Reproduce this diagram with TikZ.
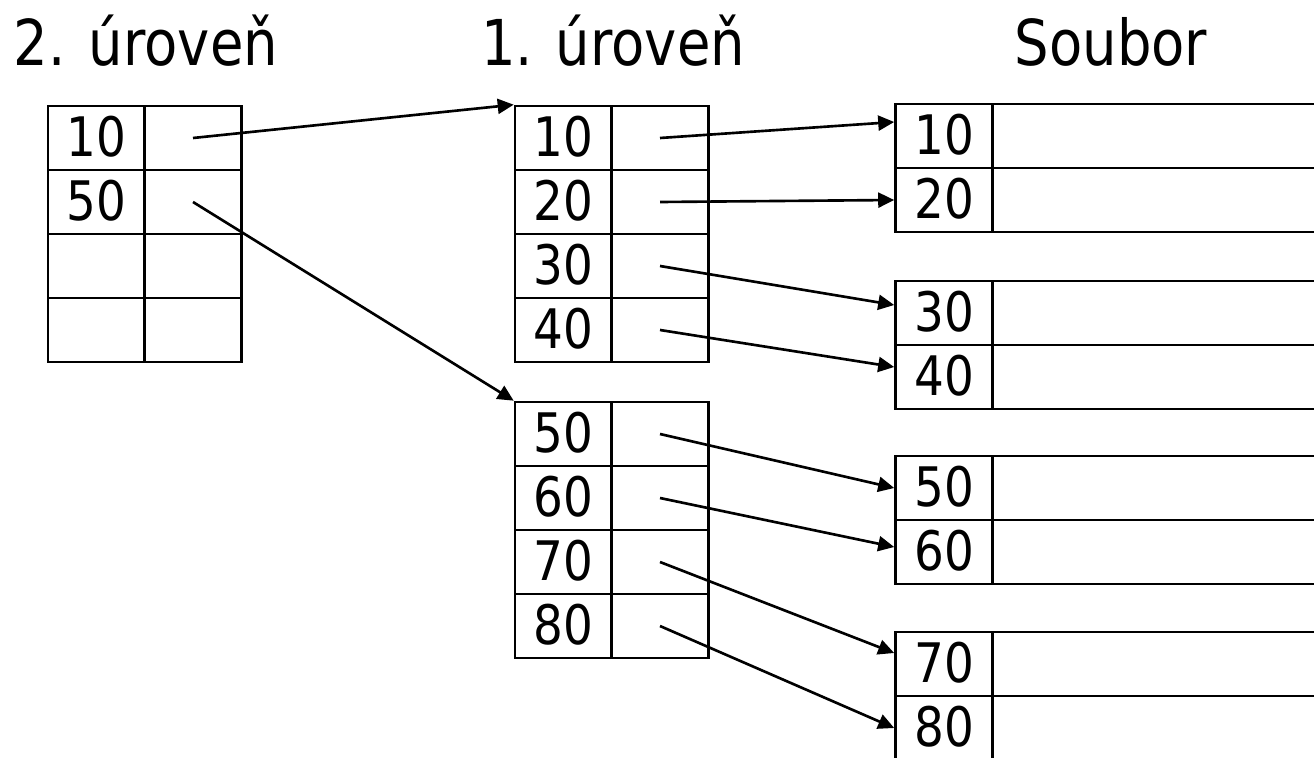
\documentclass[tikz,border=0pt]{standalone}
\usepackage{fontspec}
\setmainfont{DejaVu Sans}[FakeStretch=0.86]
\usetikzlibrary{arrows.meta}

\tikzset{
  key/.style={draw, inner sep=0pt, minimum width=1.94cm, minimum height=1.28cm,
    text depth=2pt, font=\fontsize{31}{31}\selectfont},
  ptr/.style={draw, inner sep=0pt, minimum width=1.94cm, minimum height=1.28cm},
  rec/.style={draw, inner sep=0pt, minimum width=6.8cm, minimum height=1.28cm},
  title/.style={anchor=base, font=\fontsize{36}{36}\selectfont},
}

\begin{document}
\begin{tikzpicture}[x=0.02cm, y=-0.02cm, line width=1.5pt,
  >={Triangle[length=0.32cm, width=0.3cm]}]
\useasboundingbox (0,0) rectangle (1314,757);
\clip (0,0) rectangle (1314,757);

% headings
\node[title] (t2) at (146,66) {2. úroveň};
\node[title] (t1) at (613,66) {1. úroveň};
\node[title] (tf) at (1111,66) {Soubor};

% 2. level index
\foreach \i/\y/\k in {1/138/10, 2/202/50, 3/266/{}, 4/330/{}} {
    \node[key] (L\i) at (96.5,\y) {\k};
    \node[ptr] (Lp\i) at (193,\y) {};
};

% 1. level index, two blocks
\foreach \i/\y in {1/138, 2/202, 3/266, 4/330, 5/434, 6/498, 7/562, 8/626} {
    \node[key] (M\i) at (563.5,\y) {\i0};
    \node[ptr] (Mp\i) at (660,\y) {};
};

% file blocks
\foreach \i/\y in {1/136, 2/200, 3/313, 4/377, 5/488, 6/552, 7/664, 8/728} {
    \node[key] (R\i) at (944,\y) {\i0};
    \node[rec] (Rd\i) at (1162,\y) {};
};

% pointers
\draw[->] (Lp1.center) -- (M1.north west);
\draw[->] (Lp2.center) -- (M5.north west);
\foreach \i/\s in {1/0.28, 2/0, 3/0.16, 4/0.2, 5/0, 6/0.1, 7/0.22, 8/0} {
    \draw[->] (Mp\i.center) -- ([yshift=\s cm]R\i.west);
};
\end{tikzpicture}
\end{document}
